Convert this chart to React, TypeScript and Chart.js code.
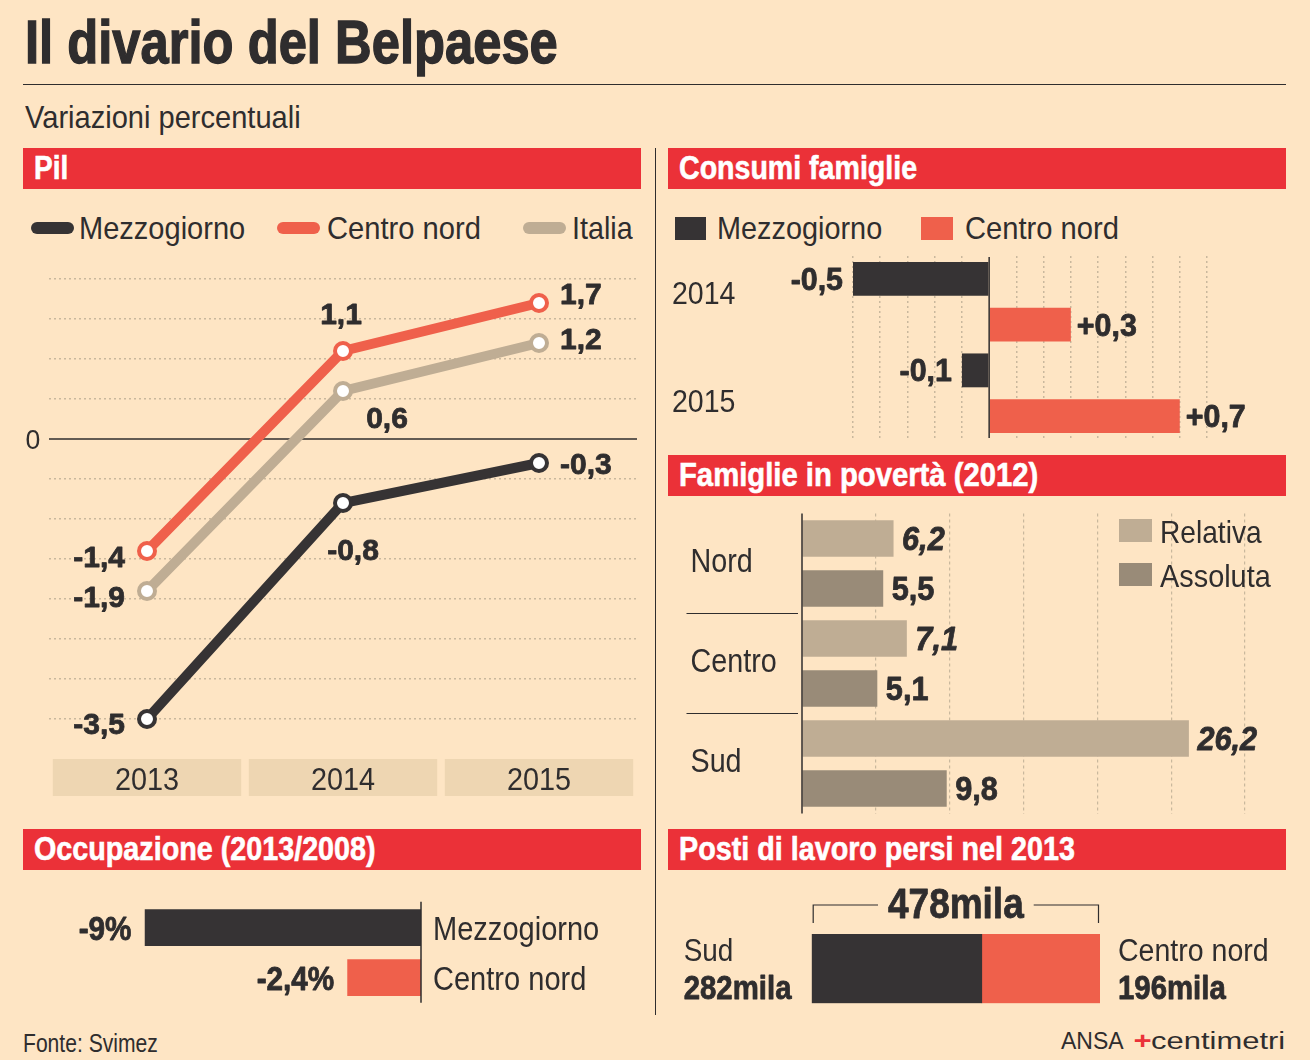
import React, { useEffect, useLayoutEffect, useRef } from "react";
import { Chart, registerables } from "chart.js";

Chart.register(...registerables);

const FONT = "'Liberation Sans', Arial, sans-serif";

const PAGE_BG = "#fee5c4";
const HEADER_RED = "#eb3138";
const INK = "#2f2d2e";
const DARK = "#363334";
const CORAL = "#ef604b";
const BEIGE = "#bfad94";
const TAUPE = "#998b78";
const YEAR_BOX = "#eed6b2";
const GRID = "#c9b89d";

// Pil, variazioni percentuali
const pilYears = ["2013", "2014", "2015"];
const pilMezzogiorno = [-3.5, -0.8, -0.3];
const pilCentroNord = [-1.4, 1.1, 1.7];
const pilItalia = [-1.9, 0.6, 1.2];

// Consumi famiglie
const consumiYears = ["2014", "2015"];
const consumiMezzogiorno = [-0.5, -0.1];
const consumiCentroNord = [0.3, 0.7];

// Famiglie in povertà (2012)
const povertaAree = ["Nord", "Centro", "Sud"];
const povertaRelativa = [6.2, 7.1, 26.2];
const povertaAssoluta = [5.5, 5.1, 9.8];

// Occupazione (2013/2008)
const occupazioneAree = ["Mezzogiorno", "Centro nord"];
const occupazioneVar = [-9, -2.4];

// Posti di lavoro persi nel 2013 (migliaia)
const postiAree = ["Sud", "Centro nord"];
const postiPersi = [282, 196];

const fmt = (v: number) => String(v).replace(".", ",");
const signed = (v: number) => (v > 0 ? "+" : "") + fmt(v);

type Align = "left" | "right" | "center";
type TextOpts = {
  size: number;
  bold?: boolean;
  italic?: boolean;
  align?: Align;
  color?: string;
  sx?: number;
};

// Draws a label whose cap height is centred on cy, optionally squeezed horizontally.
// Bold labels get a thin outline so they read as heavy as a black condensed face.
function drawText(ctx: CanvasRenderingContext2D, text: string, x: number, cy: number, o: TextOpts) {
  ctx.save();
  ctx.font = `${o.italic ? "italic " : ""}${o.bold ? "bold " : ""}${o.size}px ${FONT}`;
  ctx.fillStyle = o.color ?? INK;
  ctx.strokeStyle = o.color ?? INK;
  ctx.textAlign = "left";
  ctx.textBaseline = "alphabetic";
  const sx = o.sx ?? 1;
  const w = ctx.measureText(text).width * sx;
  let left = x;
  if (o.align === "right") left = x - w;
  else if (o.align === "center") left = x - w / 2;
  ctx.translate(left, cy + o.size * 0.358);
  ctx.scale(sx, 1);
  ctx.fillText(text, 0, 0);
  if (o.bold) {
    ctx.lineWidth = 0.8;
    ctx.lineJoin = "round";
    ctx.strokeText(text, 0, 0);
  }
  ctx.restore();
  return w;
}

function vLine(ctx: CanvasRenderingContext2D, x: number, y1: number, y2: number, width = 1.5) {
  ctx.save();
  ctx.strokeStyle = INK;
  ctx.lineWidth = width;
  ctx.beginPath();
  ctx.moveTo(x, y1);
  ctx.lineTo(x, y2);
  ctx.stroke();
  ctx.restore();
}

const isZero = (v: number) => Math.abs(v) < 1e-9;

// ---------- Pil ----------
type Placement = { align: Align; dx: number; dy: number };
const pilLabelPlacement: Placement[][] = [
  [
    { align: "right", dx: -22, dy: 4 },
    { align: "center", dx: 10, dy: 46 },
    { align: "left", dx: 21, dy: 0 },
  ],
  [
    { align: "right", dx: -22, dy: 5 },
    { align: "center", dx: -2, dy: -38 },
    { align: "left", dx: 21, dy: -10 },
  ],
  [
    { align: "right", dx: -22, dy: 5 },
    { align: "center", dx: 44, dy: 26 },
    { align: "left", dx: 21, dy: -5 },
  ],
];

function pilConfig(): any {
  const series = [
    { label: "Mezzogiorno", data: pilMezzogiorno, color: DARK },
    { label: "Centro nord", data: pilCentroNord, color: CORAL },
    { label: "Italia", data: pilItalia, color: BEIGE },
  ];
  const decor = {
    id: "pilDecor",
    beforeDatasetsDraw(chart: any) {
      const { ctx, chartArea: a, scales } = chart;
      const x = scales.x;
      const y = scales.y;
      const half = (x.getPixelForValue(1) - x.getPixelForValue(0)) / 2 - 3.8;
      pilYears.forEach((yr, i) => {
        const cx = x.getPixelForValue(i);
        ctx.fillStyle = YEAR_BOX;
        ctx.fillRect(cx - half, a.bottom + 40, half * 2, 37);
        drawText(ctx, yr, cx, a.bottom + 60, { size: 31, align: "center", sx: 0.93 });
      });
      const y0 = y.getPixelForValue(0);
      ctx.save();
      ctx.strokeStyle = INK;
      ctx.lineWidth = 1.5;
      ctx.beginPath();
      ctx.moveTo(a.left, y0);
      ctx.lineTo(a.right, y0);
      ctx.stroke();
      ctx.restore();
      drawText(ctx, "0", a.left - 16, y0, { size: 28, align: "center", sx: 0.95 });
    },
    afterDatasetsDraw(chart: any) {
      chart.data.datasets.forEach((ds: any, di: number) => {
        const meta = chart.getDatasetMeta(di);
        meta.data.forEach((pt: any, i: number) => {
          const p = pilLabelPlacement[di][i];
          drawText(chart.ctx, fmt(ds.data[i]), pt.x + p.dx, pt.y + p.dy, {
            size: 30,
            bold: true,
            align: p.align,
            sx: 1.0,
          });
        });
      });
    },
  };
  return {
    type: "line",
    data: {
      labels: pilYears,
      datasets: series.map((s) => ({
        label: s.label,
        data: s.data,
        borderColor: s.color,
        borderWidth: 10,
        pointRadius: 8,
        pointBorderWidth: 4,
        pointBackgroundColor: "#ffffff",
        pointBorderColor: s.color,
        tension: 0,
        clip: false,
      })),
    },
    options: {
      responsive: false,
      animation: false,
      events: [],
      layout: { padding: { left: 29, right: 13, top: 29, bottom: 91 } },
      plugins: { legend: { display: false }, tooltip: { enabled: false } },
      scales: {
        x: { type: "category", offset: true, display: false },
        y: {
          min: -3.5,
          max: 2,
          ticks: { display: false, stepSize: 0.5 },
          grid: {
            drawTicks: false,
            lineWidth: 1.5,
            color: (c: any) => (isZero(c.tick.value) ? "rgba(0,0,0,0)" : GRID),
          },
          border: { display: false, dash: [2, 3] },
        },
      },
    },
    plugins: [decor],
  };
}

// ---------- Consumi famiglie ----------
const consumiYearDy = [-9, 8];

function consumiConfig(): any {
  const decor = {
    id: "consumiDecor",
    afterDatasetsDraw(chart: any) {
      const { ctx, chartArea: a, scales } = chart;
      const x0 = scales.x.getPixelForValue(0);
      vLine(ctx, x0, a.top + 1, a.bottom - 1);
      consumiYears.forEach((yr, i) => {
        drawText(ctx, yr, a.left - 181, scales.y.getPixelForValue(i) + consumiYearDy[i], {
          size: 31,
          sx: 0.92,
        });
      });
      chart.data.datasets.forEach((ds: any, di: number) => {
        chart.getDatasetMeta(di).data.forEach((bar: any, i: number) => {
          const v = ds.data[i];
          if (v < 0) drawText(ctx, signed(v), bar.x - 10, bar.y, { size: 31, bold: true, align: "right", sx: 0.98 });
          else drawText(ctx, signed(v), bar.x + 6, bar.y, { size: 31, bold: true, align: "left", sx: 0.98 });
        });
      });
    },
  };
  return {
    type: "bar",
    data: {
      labels: consumiYears,
      datasets: [
        { label: "Mezzogiorno", data: consumiMezzogiorno, backgroundColor: DARK },
        { label: "Centro nord", data: consumiCentroNord, backgroundColor: CORAL },
      ],
    },
    options: {
      indexAxis: "y",
      responsive: false,
      animation: false,
      events: [],
      layout: { padding: { left: 185, right: 79, top: 6, bottom: 6 } },
      plugins: { legend: { display: false }, tooltip: { enabled: false } },
      datasets: { bar: { barPercentage: 0.74, categoryPercentage: 1 } },
      scales: {
        x: {
          min: -0.5,
          max: 0.8,
          ticks: { display: false, stepSize: 0.1 },
          grid: {
            drawTicks: false,
            lineWidth: 1.5,
            color: (c: any) => (isZero(c.tick.value) ? "rgba(0,0,0,0)" : GRID),
          },
          border: { display: false, dash: [2, 3] },
        },
        y: { type: "category", display: false },
      },
    },
    plugins: [decor],
  };
}

// ---------- Famiglie in povertà ----------
function povertaConfig(): any {
  const decor = {
    id: "povertaDecor",
    afterDatasetsDraw(chart: any) {
      const { ctx, chartArea: a, scales } = chart;
      const y = scales.y;
      vLine(ctx, scales.x.getPixelForValue(0), a.top, a.bottom);
      povertaAree.forEach((area, i) => {
        drawText(ctx, area, a.left - 111.5, y.getPixelForValue(i) - 3, { size: 33, sx: 0.87 });
        if (i < povertaAree.length - 1) {
          const yb = (y.getPixelForValue(i) + y.getPixelForValue(i + 1)) / 2;
          ctx.save();
          ctx.strokeStyle = INK;
          ctx.lineWidth = 1.2;
          ctx.beginPath();
          ctx.moveTo(a.left - 115.5, yb);
          ctx.lineTo(a.left - 4, yb);
          ctx.stroke();
          ctx.restore();
        }
      });
      chart.data.datasets.forEach((ds: any, di: number) => {
        chart.getDatasetMeta(di).data.forEach((bar: any, i: number) => {
          drawText(ctx, fmt(ds.data[i]), bar.x + 8.5, bar.y, {
            size: 33,
            bold: true,
            italic: di === 0,
            sx: 0.93,
          });
        });
      });
    },
  };
  return {
    type: "bar",
    data: {
      labels: povertaAree,
      datasets: [
        { label: "Relativa", data: povertaRelativa, backgroundColor: BEIGE },
        { label: "Assoluta", data: povertaAssoluta, backgroundColor: TAUPE },
      ],
    },
    options: {
      indexAxis: "y",
      responsive: false,
      animation: false,
      events: [],
      layout: { padding: { left: 134, right: 41, top: 13.5, bottom: 6.5 } },
      plugins: { legend: { display: false }, tooltip: { enabled: false } },
      datasets: { bar: { barPercentage: 0.734, categoryPercentage: 1 } },
      scales: {
        x: {
          min: 0,
          max: 30,
          ticks: { display: false, stepSize: 5 },
          grid: {
            drawTicks: false,
            lineWidth: 1.2,
            color: (c: any) => (isZero(c.tick.value) ? "rgba(0,0,0,0)" : GRID),
          },
          border: { display: false, dash: [3, 3] },
        },
        y: { type: "category", display: false },
      },
    },
    plugins: [decor],
  };
}

// ---------- Occupazione ----------
function occupazioneConfig(): any {
  const decor = {
    id: "occupazioneDecor",
    afterDatasetsDraw(chart: any) {
      const { ctx, chartArea: a, scales } = chart;
      vLine(ctx, scales.x.getPixelForValue(0), a.top - 1, a.bottom);
      occupazioneAree.forEach((area, i) => {
        drawText(ctx, area, a.right + 12, scales.y.getPixelForValue(i), { size: 33, sx: 0.88 });
      });
      chart.getDatasetMeta(0).data.forEach((bar: any, i: number) => {
        drawText(ctx, fmt(occupazioneVar[i]) + "%", bar.x - 13, bar.y, {
          size: 33,
          bold: true,
          align: "right",
          sx: 0.9,
        });
      });
    },
  };
  return {
    type: "bar",
    data: {
      labels: occupazioneAree,
      datasets: [{ label: "Occupazione", data: occupazioneVar, backgroundColor: [DARK, CORAL] }],
    },
    options: {
      indexAxis: "y",
      responsive: false,
      animation: false,
      events: [],
      layout: { padding: { left: 121.5, right: 222, top: 7.7, bottom: 7.3 } },
      plugins: { legend: { display: false }, tooltip: { enabled: false } },
      datasets: { bar: { barPercentage: 0.734, categoryPercentage: 1 } },
      scales: {
        x: { min: -9, max: 0, display: false },
        y: { type: "category", display: false },
      },
    },
    plugins: [decor],
  };
}

// ---------- Posti di lavoro persi ----------
function postiConfig(): any {
  const total = postiPersi.reduce((s, v) => s + v, 0);
  const decor = {
    id: "postiDecor",
    afterDatasetsDraw(chart: any) {
      const { ctx, chartArea: a, scales } = chart;
      const x0 = scales.x.getPixelForValue(0);
      const x1 = scales.x.getPixelForValue(total);
      const yb = a.top - 29;
      const cx = (x0 + x1) / 2;
      const tw = drawText(ctx, `${total}mila`, cx, yb - 2, { size: 43, bold: true, align: "center", sx: 0.86 });
      ctx.save();
      ctx.strokeStyle = INK;
      ctx.lineWidth = 1.2;
      ctx.beginPath();
      ctx.moveTo(x0 + 1.5, a.top - 11);
      ctx.lineTo(x0 + 1.5, yb);
      ctx.lineTo(cx - tw / 2 - 10, yb);
      ctx.moveTo(cx + tw / 2 + 10, yb);
      ctx.lineTo(x1 - 1.5, yb);
      ctx.lineTo(x1 - 1.5, a.top - 11);
      ctx.stroke();
      ctx.restore();
      drawText(ctx, postiAree[0], a.left - 128, a.top + 16, { size: 31, sx: 0.9 });
      drawText(ctx, `${postiPersi[0]}mila`, a.left - 128, a.top + 52.7, { size: 33, bold: true, sx: 0.89 });
      drawText(ctx, postiAree[1], a.right + 18, a.top + 16, { size: 31, sx: 0.92 });
      drawText(ctx, `${postiPersi[1]}mila`, a.right + 18, a.top + 52.7, { size: 33, bold: true, sx: 0.89 });
    },
  };
  return {
    type: "bar",
    data: {
      labels: ["Posti di lavoro persi"],
      datasets: [
        { label: postiAree[0], data: [postiPersi[0]], backgroundColor: DARK },
        { label: postiAree[1], data: [postiPersi[1]], backgroundColor: CORAL },
      ],
    },
    options: {
      indexAxis: "y",
      responsive: false,
      animation: false,
      events: [],
      layout: { padding: { left: 143.7, right: 186, top: 59, bottom: 11.7 } },
      plugins: { legend: { display: false }, tooltip: { enabled: false } },
      datasets: { bar: { barPercentage: 1, categoryPercentage: 1 } },
      scales: {
        x: { stacked: true, min: 0, max: total, display: false },
        y: { stacked: true, type: "category", display: false },
      },
    },
    plugins: [decor],
  };
}

// ---------- building blocks ----------
function ChartBox(props: { left: number; top: number; width: number; height: number; make: () => any }) {
  const { left, top, width, height, make } = props;
  const ref = useRef<HTMLCanvasElement>(null);
  useEffect(() => {
    const chart = new Chart(ref.current as HTMLCanvasElement, make());
    return () => chart.destroy();
  }, [make]);
  return (
    <canvas
      ref={ref}
      width={width}
      height={height}
      style={{ position: "absolute", left, top, width, height, display: "block" }}
    />
  );
}

function Txt(props: {
  x: number;
  cy: number;
  size: number;
  fit?: number;
  bold?: boolean;
  stroke?: number;
  color?: string;
  children: React.ReactNode;
}) {
  const { x, cy, size, fit, bold, stroke = 0, color = INK, children } = props;
  const ref = useRef<HTMLDivElement>(null);
  useLayoutEffect(() => {
    const el = ref.current;
    if (!el || !fit) return;
    el.style.transform = `scaleX(${fit / el.offsetWidth})`;
  }, [fit]);
  return (
    <div
      ref={ref}
      style={{
        position: "absolute",
        left: x,
        top: cy - size * 0.5885,
        fontFamily: FONT,
        fontSize: size,
        lineHeight: `${size * 1.2}px`,
        fontWeight: bold ? 700 : 400,
        color,
        whiteSpace: "nowrap",
        transformOrigin: "left center",
        WebkitTextStroke: stroke ? `${stroke}px ${color}` : undefined,
      }}
    >
      {children}
    </div>
  );
}

function Box(props: { x: number; y: number; w: number; h: number; color: string; radius?: number }) {
  const { x, y, w, h, color, radius = 0 } = props;
  return (
    <div style={{ position: "absolute", left: x, top: y, width: w, height: h, background: color, borderRadius: radius }} />
  );
}

function Header(props: { x: number; y: number; text: string; fit: number }) {
  const { x, y, text, fit } = props;
  return (
    <>
      <Box x={x} y={y} w={618} h={41} color={HEADER_RED} />
      <Txt x={x + 11} cy={y + 19} size={33} bold stroke={0.6} color="#ffffff" fit={fit}>
        {text}
      </Txt>
    </>
  );
}

export default function App() {
  return (
    <div
      style={{
        position: "absolute",
        left: 0,
        top: 0,
        width: 1310,
        height: 1060,
        background: PAGE_BG,
        overflow: "hidden",
      }}
    >
      <Txt x={25} cy={41.5} size={61} bold stroke={1.4} fit={533}>
        Il divario del Belpaese
      </Txt>
      <Box x={23} y={84} w={1263} h={1} color={INK} />
      <Txt x={25} cy={116.5} size={32} fit={276}>
        Variazioni percentuali
      </Txt>
      <Box x={654.5} y={148} w={1.2} h={867} color={INK} />

      {/* Pil */}
      <Header x={23} y={148} text="Pil" fit={34} />
      <Box x={31} y={222} w={43} h={12} color={DARK} radius={6} />
      <Txt x={79} cy={228} size={32} fit={166}>Mezzogiorno</Txt>
      <Box x={277} y={222} w={43} h={12} color={CORAL} radius={6} />
      <Txt x={327} cy={228} size={32} fit={154}>Centro nord</Txt>
      <Box x={523} y={222} w={43} h={12} color={BEIGE} radius={6} />
      <Txt x={572} cy={228} size={32} fit={61}>Italia</Txt>
      <ChartBox left={20} top={250} width={630} height={560} make={pilConfig} />

      {/* Consumi famiglie */}
      <Header x={668} y={148} text="Consumi famiglie" fit={238} />
      <Box x={675} y={217} w={31} h={23} color={DARK} />
      <Txt x={717} cy={228} size={32} fit={165}>Mezzogiorno</Txt>
      <Box x={921} y={217} w={32} h={23} color={CORAL} />
      <Txt x={965} cy={228} size={32} fit={154}>Centro nord</Txt>
      <ChartBox left={668} top={250} width={618} height={195} make={consumiConfig} />

      {/* Famiglie in povertà */}
      <Header x={668} y={455} text="Famiglie in povertà (2012)" fit={359} />
      <ChartBox left={668} top={500} width={618} height={320} make={povertaConfig} />
      <Box x={1119} y={519} w={33} h={23} color={BEIGE} />
      <Txt x={1160} cy={531.5} size={32} fit={102}>Relativa</Txt>
      <Box x={1119} y={563} w={33} h={23} color={TAUPE} />
      <Txt x={1160} cy={575.5} size={32} fit={111}>Assoluta</Txt>

      {/* Occupazione */}
      <Header x={23} y={829} text="Occupazione (2013/2008)" fit={342} />
      <ChartBox left={23} top={895} width={620} height={115} make={occupazioneConfig} />

      {/* Posti di lavoro persi */}
      <Header x={668} y={829} text="Posti di lavoro persi nel 2013" fit={396} />
      <ChartBox left={668} top={875} width={618} height={140} make={postiConfig} />

      <Txt x={23} cy={1042.5} size={25} fit={135}>Fonte: Svimez</Txt>
      <Txt x={1061} cy={1041.5} size={23} fit={63}>ANSA</Txt>
      <Txt x={1133} cy={1041.5} size={23} fit={152}>
        <span style={{ color: HEADER_RED, fontWeight: 700, fontStyle: "italic" }}>+</span>centimetri
      </Txt>
    </div>
  );
}
